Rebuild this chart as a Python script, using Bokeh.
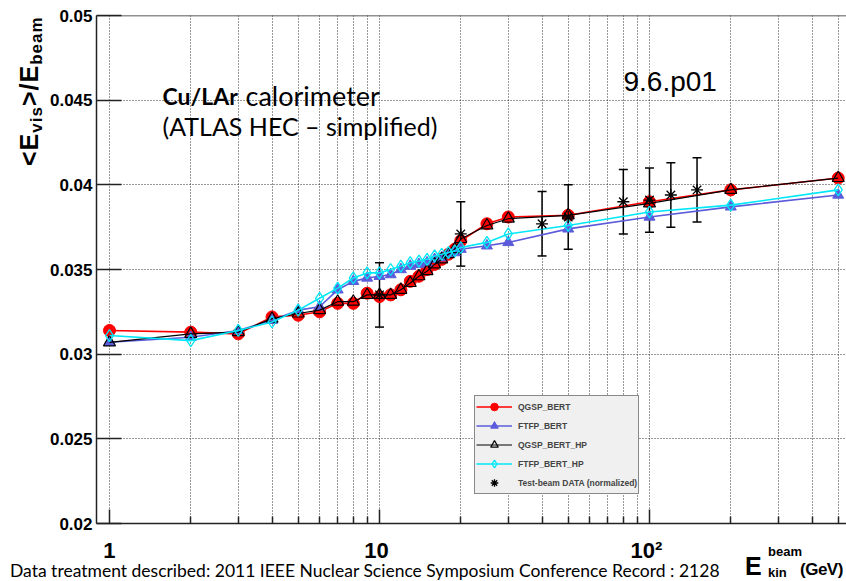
import numpy as np
from bokeh.plotting import figure
from bokeh.layouts import column
from bokeh.models import (Range1d, FixedTicker, Label, Legend, LegendItem, Span, Div,
                          Whisker, ColumnDataSource, TeeHead, CustomJSTickFormatter)
from bokeh.embed import file_html
from bokeh.resources import INLINE

# Beam energies (GeV) of the simulated points
energy_sim = [1, 2, 3, 4, 5, 6, 7, 8, 9, 10, 11, 12, 13, 14, 15, 16, 17, 18, 19, 20,
              25, 30, 50, 100, 200, 500]

# <E_vis>/E_beam per physics list
qgsp_bert = [0.0314, 0.0313, 0.0312, 0.0322, 0.0323, 0.0325, 0.0330, 0.0330, 0.0336, 0.0334,
             0.0335, 0.0338, 0.0343, 0.0346, 0.0350, 0.0353, 0.0356, 0.0359, 0.0362, 0.0367,
             0.0377, 0.0381, 0.0382, 0.0390, 0.0397, 0.0404]
ftfp_bert = [0.0307, 0.0310, 0.0314, 0.0320, 0.0326, 0.0328, 0.0338, 0.0343, 0.0345, 0.0346,
             0.0347, 0.0350, 0.0352, 0.0353, 0.0354, 0.0356, 0.0357, 0.0359, 0.0360, 0.0362,
             0.0364, 0.0366, 0.0374, 0.0381, 0.0387, 0.0394]
qgsp_bert_hp = [0.0307, 0.0312, 0.0313, 0.0321, 0.0324, 0.0326, 0.0331, 0.0331, 0.0335, 0.0335,
                0.0335, 0.0338, 0.0342, 0.0346, 0.0349, 0.0353, 0.0356, 0.0359, 0.0362, 0.0368,
                0.0376, 0.0380, 0.0382, 0.0389, 0.0397, 0.0404]
ftfp_bert_hp = [0.0311, 0.0308, 0.0314, 0.0319, 0.0326, 0.0333, 0.0339, 0.0345, 0.0348, 0.0348,
                0.0350, 0.0352, 0.0354, 0.0355, 0.0356, 0.0358, 0.0359, 0.0360, 0.0361, 0.0363,
                0.0366, 0.0371, 0.0376, 0.0384, 0.0388, 0.0397]

# Test-beam data (normalized)
energy_data = [10, 20, 40, 50, 80, 100, 120, 150]
data_vals = [0.0335, 0.0371, 0.0377, 0.0381, 0.0390, 0.0391, 0.0394, 0.0397]
data_err = [0.0019, 0.0019, 0.0019, 0.0019, 0.0019, 0.0019, 0.0019, 0.0019]

x_major = [1, 10, 100]
x_minor = [2, 3, 4, 5, 6, 7, 8, 9, 20, 30, 40, 50, 60, 70, 80, 90, 200, 300, 400, 500]
y_ticks = [0.02, 0.025, 0.03, 0.035, 0.04, 0.045, 0.05]

W, H = 846, 581
FRAME_LEFT, FRAME_BOTTOM = 96, 523

p = figure(width=W, height=H, x_axis_type="log",
           x_range=Range1d(0.8952, 536.6), y_range=Range1d(0.02, 0.05),
           output_backend="svg", toolbar_location=None,
           min_border_left=FRAME_LEFT, min_border_right=0,
           min_border_top=15, min_border_bottom=H - FRAME_BOTTOM)
p.outline_line_color = None
p.background_fill_color = "white"
p.border_fill_color = "white"

# axes
xt = FixedTicker(ticks=x_major, minor_ticks=x_minor)
yt = FixedTicker(ticks=y_ticks)
p.xaxis.ticker = xt
p.yaxis.ticker = yt
p.xaxis.formatter = CustomJSTickFormatter(
    code="return tick >= 100 ? '10\u00b2\u00a0' : (tick >= 10 ? '10\u00a0' : '1');")
p.yaxis.formatter = CustomJSTickFormatter(code="return parseFloat(tick.toFixed(4)).toString();")
for ax in (p.xaxis[0], p.yaxis[0]):
    ax.axis_line_color = "#222222"
    ax.axis_line_width = 1.5
    ax.major_tick_line_color = "#222222"
    ax.major_tick_line_width = 1.5
    ax.minor_tick_line_color = "#222222"
    ax.minor_tick_line_width = 1.5
    ax.major_tick_out = 0
    ax.minor_tick_out = 0
    ax.major_label_text_font = "Liberation Sans"
    ax.major_label_text_font_style = "bold"
    ax.major_label_text_color = "black"
p.xaxis.major_tick_in = 14
p.xaxis.minor_tick_in = 7
p.xaxis.major_label_text_font_size = "22px"
p.xaxis.major_label_standoff = 14
p.yaxis.major_tick_in = 25
p.yaxis.minor_tick_in = 0
p.yaxis.minor_tick_line_color = None
p.yaxis.major_label_text_font_size = "17px"
p.yaxis.major_label_standoff = 4

# dotted grid
p.xgrid.ticker = xt
p.ygrid.ticker = yt
for g in (p.xgrid[0], p.ygrid[0]):
    g.grid_line_color = "#333333"
    g.grid_line_dash = "1 2"
    g.grid_line_width = 1
p.xgrid.minor_grid_line_color = "#333333"
p.xgrid.minor_grid_line_dash = "1 2"
p.xgrid.minor_grid_line_width = 1

p.add_layout(Span(location=0.05, dimension="width", line_color="#222222", line_width=1.5))

# simulated series
red, blue, cyan = "#ff0000", "#5c5cdb", "#00e8f8"
l_red = p.line(energy_sim, qgsp_bert, line_color=red, line_width=1.6)
m_red = p.scatter(energy_sim, qgsp_bert, marker="circle", size=12, fill_color=red, line_color=red)
l_blue = p.line(energy_sim, ftfp_bert, line_color=blue, line_width=1.6)
m_blue = p.scatter(energy_sim, ftfp_bert, marker="triangle", size=11, fill_color=blue, line_color=blue)
l_blk = p.line(energy_sim, qgsp_bert_hp, line_color="black", line_width=1.2)
m_blk = p.scatter(energy_sim, qgsp_bert_hp, marker="triangle", size=12, fill_color=None,
                  line_color="black", line_width=1.2)
l_cyan = p.line(energy_sim, ftfp_bert_hp, line_color=cyan, line_width=1.6)
m_cyan = p.scatter(energy_sim, ftfp_bert_hp, marker="diamond", size=12, fill_color=None,
                   line_color=cyan, line_width=1.3)

# test-beam data with error bars
vals = np.array(data_vals)
errs = np.array(data_err)
src = ColumnDataSource(dict(x=energy_data, y=vals, upper=vals + errs, lower=vals - errs))
p.add_layout(Whisker(source=src, base="x", upper="upper", lower="lower", dimension="height",
                     line_color="black", line_width=1.5,
                     upper_head=TeeHead(size=9, line_color="black", line_width=1.5),
                     lower_head=TeeHead(size=9, line_color="black", line_width=1.5)))
m_data = p.scatter("x", "y", source=src, marker="asterisk", size=12, line_color="black", line_width=1.3)

legend = Legend(items=[
    LegendItem(label="QGSP_BERT", renderers=[l_red, m_red]),
    LegendItem(label="FTFP_BERT", renderers=[l_blue, m_blue]),
    LegendItem(label="QGSP_BERT_HP", renderers=[l_blk, m_blk]),
    LegendItem(label="FTFP_BERT_HP", renderers=[l_cyan, m_cyan]),
    LegendItem(label="Test-beam DATA (normalized)", renderers=[m_data]),
], location=(378, 29))
legend.background_fill_color = "#f0f0f0"
legend.background_fill_alpha = 1.0
legend.border_line_color = "#222222"
legend.border_line_width = 1.5
legend.label_text_font = "Liberation Sans"
legend.label_text_font_style = "bold"
legend.label_text_font_size = "8.5px"
legend.glyph_width = 36
legend.glyph_height = 19
legend.label_height = 19
legend.label_standoff = 6
legend.spacing = 0
legend.padding = 1
legend.margin = 0
p.add_layout(legend)


def put(text, cx, cy, size, font="Liberation Sans", style="bold"):
    p.add_layout(Label(x=cx - FRAME_LEFT, y=FRAME_BOTTOM - cy, x_units="screen", y_units="screen",
                       text=text, text_font=font, text_font_size=f"{size}px",
                       text_font_style=style, text_color="black",
                       text_align="left", text_baseline="alphabetic"))


# annotations inside the frame
put("Cu/LAr", 162, 95, 23, font="Lato", style="bold")
put("calorimeter", 245, 95, 27, font="Lato", style="normal")
put("(ATLAS HEC \u2013 simplified)", 162, 125, 25, font="Lato", style="normal")
put("9.6.p01", 623, 81, 28, style="normal")

# texts outside the frame (axis titles, footnote) as an HTML overlay
BASE = {"Liberation Sans": 0.8465, "Lato": 0.887}   # baseline offset in a 1em line box


def box(inner, left, baseline, size, family="Liberation Sans", weight="bold", rotate=False,
        tracking=None):
    style = (f"position:absolute;white-space:nowrap;font-family:'{family}';font-weight:{weight};"
             f"font-size:{size}px;line-height:{size}px;color:black;")
    off = BASE[family] * size
    if rotate:
        # text reads bottom-to-top; 'left' is the x of the line box, 'baseline' the y where it starts
        style += (f"left:{left:.1f}px;top:{baseline:.1f}px;transform:rotate(-90deg);"
                  "transform-origin:0 0;letter-spacing:1px;")
    else:
        style += f"left:{left:.1f}px;top:{baseline - off:.1f}px;"
        if tracking is not None:
            style += f"letter-spacing:{tracking}px;"
    return f'<div style="{style}">{inner}</div>'


def sub(t, size, shift):
    return f'<span style="font-size:{size}px;position:relative;top:{shift}px">{t}</span>'


y_title = box("&lt;E" + sub("vis", 17, 4) + "&gt;/E" + sub("beam", 17, 4), 17, 166, 25, rotate=True)
x_title = (box("E", 745, 575, 25) + box("beam", 768, 556, 13) + box("kin", 768, 577, 13)
           + box("(GeV)", 800, 575, 17, tracking=-0.5))
footnote = box("Data treatment described: 2011 IEEE Nuclear Science Symposium Conference Record : 2128",
               10, 577, 17.5, family="Lato", weight="normal")

overlay_html = (f'<div style="position:relative;width:{W}px;height:{H}px;overflow:hidden">'
                + y_title + x_title + footnote + "</div>")
overlay = Div(text=overlay_html, width=W, height=H, margin=0,
              styles={"position": "absolute", "left": "0px", "top": "0px",
                      "z-index": "10", "pointer-events": "none"})

try:
    p.elements = [overlay]
    root = p
except (AttributeError, ValueError):
    root = column(p, overlay, margin=0)

open("out.html", "w").write(file_html(root, INLINE))
